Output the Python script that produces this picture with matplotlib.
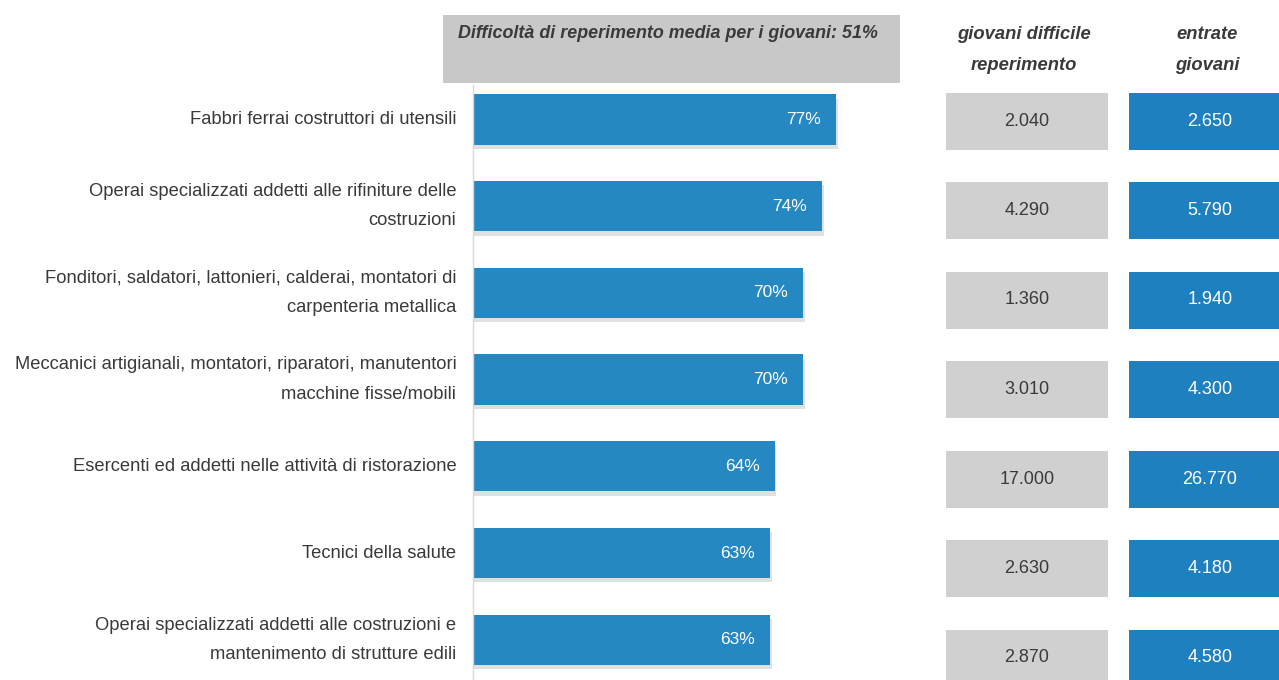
import matplotlib
matplotlib.use("Agg")
import matplotlib.pyplot as plt
import matplotlib.patheffects as pe
from matplotlib.patches import Rectangle

plt.rcParams["font.family"] = ["Liberation Sans", "DejaVu Sans"]

# data
categories = [
    "Fabbri ferrai costruttori di utensili",
    "Operai specializzati addetti alle rifiniture delle\ncostruzioni",
    "Fonditori, saldatori, lattonieri, calderai, montatori di\ncarpenteria metallica",
    "Meccanici artigianali, montatori, riparatori, manutentori\nmacchine fisse/mobili",
    "Esercenti ed addetti nelle attività di ristorazione",
    "Tecnici della salute",
    "Operai specializzati addetti alle costruzioni e\nmantenimento di strutture edili",
]
difficolta_pct = [77, 74, 70, 70, 64, 63, 63]
giovani_difficile = ["2.040", "4.290", "1.360", "3.010", "17.000", "2.630", "2.870"]
entrate_giovani = ["2.650", "5.790", "1.940", "4.300", "26.770", "4.180", "4.580"]
header_text = "Difficoltà di reperimento media per i giovani: 51%"
col_headers = ["giovani difficile\nreperimento", "entrate\ngiovani"]

BLUE = "#2588c3"
BOX_BLUE = "#1f80bf"
GRAY = "#d0d0d0"
HEADER_GRAY = "#c8c8c8"
TEXT = "#3a3a3a"

W, H = 1279, 680
fig = plt.figure(figsize=(W / 100, H / 100), dpi=100)


def px_box(x0, y0, x1, y1):
    """pixel box (top-left origin) -> figure fraction [l, b, w, h]"""
    return [x0 / W, 1 - y1 / H, (x1 - x0) / W, (y1 - y0) / H]


# header box
fig.add_artist(Rectangle((443 / W, 1 - 83 / H), (900 - 443) / W, (83 - 15) / H,
                         transform=fig.transFigure, facecolor=HEADER_GRAY,
                         edgecolor="none", zorder=0))
fig.text(668 / W, 1 - 33 / H, header_text, ha="center", va="center",
         fontsize=12.9, fontweight="bold", fontstyle="italic", color=TEXT)

# main bars
n = len(categories)
ax = fig.add_axes(px_box(473, 85, 900, 680))
ypos = list(range(n))
bars = ax.barh(ypos, difficolta_pct, height=0.58, color=BLUE, zorder=2)
for b in bars:
    b.set_path_effects([pe.SimplePatchShadow(offset=(1, -3), shadow_rgbFace="#999999", alpha=0.3),
                        pe.Normal()])
ax.set_xlim(0, (900 - 473) / 4.72)
ax.set_ylim((680 - 119.5) / 86.7, (85 - 119.5) / 86.7)
ax.set_yticks(ypos)
ax.set_yticklabels(categories, fontsize=13.2, color=TEXT, linespacing=1.95)
for lab in ax.get_yticklabels():
    lab.set_va("center")
ax.tick_params(axis="y", length=0, pad=12)
ax.set_xticks([])
for s in ["top", "right", "bottom"]:
    ax.spines[s].set_visible(False)
ax.spines["left"].set_color("#d8d8d8")
ax.spines["left"].set_linewidth(1.0)
ax.patch.set_alpha(0)
for y, v in zip(ypos, difficolta_pct):
    ax.text(v - 3.3, y, f"{v}%", ha="right", va="center", color="white", fontsize=12.5, zorder=3)

# right columns
row0, step = 121, 89.5
columns = [
    (946, 1108, giovani_difficile, GRAY, TEXT),
    (1129, 1291, entrate_giovani, BOX_BLUE, "white"),
]
head_x = [1024, 1207]
for (x0, x1, vals, fc, tc), head, hx in zip(columns, col_headers, head_x):
    cax = fig.add_axes(px_box(x0, 85, x1, 680))
    cax.barh(ypos, [1] * n, height=57 / step, color=fc)
    cax.set_xlim(0, 1)
    cax.set_ylim((680 - row0) / step, (85 - row0) / step)
    cax.axis("off")
    for y, v in zip(ypos, vals):
        cax.text(0.5, y, v, ha="center", va="center", color=tc, fontsize=13)
    fig.text(hx / W, 1 - 50 / H, head, ha="center", va="center", fontsize=13.2,
             fontweight="bold", fontstyle="italic", color=TEXT, linespacing=2.15)

fig.savefig("out.png", dpi=100, facecolor="white")
